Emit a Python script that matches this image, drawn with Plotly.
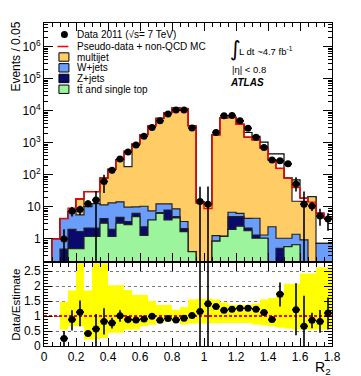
import numpy as np
import plotly.graph_objects as go

# R2 binning: 36 bins of 0.05 between 0 and 1.8
bin_edges = np.round(np.linspace(0.0, 1.8, 37), 3)
bin_centers = bin_edges[:-1] + 0.025

# stacked backgrounds (events per bin, individual contributions)
ttbar = [0, 0, 0, 0.5, 0.5, 1.2, 1.2, 3.1, 1.2, 3.1, 2.8, 5.0, 1.3, 3.9, 6.3, 3.9, 4.5, 1.7,
         0.4, 0, 0, 0.85, 1.2, 2.0, 2.5, 1.8, 1.05, 1.05, 0, 0, 0.58, 0.66, 0, 0, 0, 0]
z_jets = [0, 0, 0.48, 1.5, 1.2, 1.0, 1.0, 1.2, 0.8, 1.6, 0.7, 1.3, 1.1, 0, 0.3, 4.1, 0.5, 0.4,
          0, 0, 0, 0, 0, 3.0, 2.5, 0.4, 0.28, 0, 0, 0.51, 0, 0, 0, 0, 0, 0]
w_jets = [0, 1.0, 3.8, 5.2, 3.9, 8.0, 10.5, 7.2, 11.3, 9.7, 6.3, 3.7, 8.1, 3.6, 5.8, 4.4, 3.7, 1.4,
          0, 0, 0, 0.42, 0, 1.8, 1.3, 2.2, 3.1, 0.28, 2.4, 0.54, 0.47, 0.74, 0.93, 0, 0.73, 0.73]
multijet = [0, 0, 0, 0, 12, 0, 0, 68, 137, 286, 172, 900, 1790, 3390, 5790, 8790, 12290, 11800,
            3400, 14.6, 11.5, 1780, 6000, 6190, 3790, 1500, 1230, 680, 293, 159, 78, 13.6, 13.9, 21, 0, 0]

# black outline (total estimate) and red pseudo-data + non-QCD MC
total_estimate = [0, 1.0, 4.3, 7.2, 18, 30, 30, 79, 150, 300, 510, 910, 1800, 3400, 5800, 8800, 12300, 11800,
                  3400, 14.6, 11.5, 1780, 6000, 6200, 3800, 2100, 1590, 1050, 450, 450, 79, 70, 18.7, 21, 6.4, 4.4]
pseudo_data = [0, 1.0, 4.4, 9.1, 18, 30, 30, 79, 150, 300, 560, 950, 1800, 3400, 5800, 8800, 12300, 11800,
               3400, 13, 8.9, 1780, 6000, 6200, 3800, 1500, 1230, 680, 295, 160, 79, 40, 18.7, 14, 6.4, 4.4]

# data 2011
data = [None, None, 1.0, 7.5, 8.3, 12.6, 16.5, 62, 140, 310, 520, 850, 1600, 3000, 4900, 7900, 10500, 10500,
        2900, 14.8, 12.1, 2100, 7000, 7100, 4850, 2850, 1500, 720, 290, 276, 221, 52, 12.1, 10.7, 5.2, 4.2]
data_err_up = [None, None, 1.0, 2.5, 2.5, 3.5, 15, 38, 30, 25, 23, 30, 40, 55, 70, 90, 100, 100,
               54, 28, 31, 46, 84, 84, 70, 53, 39, 27, 17, 17, 15, 33, 18, 3.5, 3.5, 2.1]
data_err_down = [None, None, 1.0, 2.5, 2.7, 2.6, 16.5, 35, 30, 25, 23, 30, 40, 55, 70, 90, 100, 100,
                 54, 14.8, 12.1, 46, 84, 84, 70, 53, 39, 27, 17, 17, 15, 22, 12.1, 3.2, 2.6, 2.4]

# ratio panel
ratio = [None, None, 0.25, 0.88, 1.13, 0.42, 0.57, 0.82, 0.77, 1.01, 0.88, 0.87, 0.90, 0.99, 0.86, 0.92, 0.87, 0.93,
         1.02, 1.15, 1.41, 1.32, 1.19, 1.23, 1.26, 1.26, 1.23, 1.12, 0.88, 1.73, None, 1.21, 0.66, 0.86, 0.82, 1.10]
ratio_err_up = [None, None, 0.25, 0.31, 0.39, 0.1, 0.5, 0.44, 0.17, 0.18, 0.12, 0.05, 0.04, 0.04, 0.03, 0.03, 0.03, 0.03,
                0.03, 3, 3, 0.04, 0.03, 0.03, 0.03, 0.04, 0.05, 0.05, 0.08, 0.39, None, 0.88, 1.02, 0.25, 0.38, 0.52]
ratio_err_down = [None, None, 0.25, 0.36, 0.47, 0.1, 0.57, 0.44, 0.19, 0.2, 0.12, 0.05, 0.04, 0.04, 0.03, 0.03, 0.03, 0.03,
                  0.03, 1.15, 1.41, 0.04, 0.03, 0.03, 0.03, 0.04, 0.05, 0.05, 0.08, 0.41, None, 0.85, 0.66, 0.27, 0.38, 0.55]
band_low = [1, 1, 0.55, 0.66, 0.66, 0.22, 0.22, 0.27, 0.44, 0.44, 0.55, 0.55, 0.66, 0.71, 0.77, 0.82, 0.88, 0.72,
            0.75, 0.75, 0.75, 0.77, 0.77, 0.77, 0.77, 0.77, 0.72, 0.68, 0.66, 0.62, 0.58, 0.55, 0.55, 0.55, 0.55, 0.55]
band_high = [1, 1, 1.48, 1.85, 3.0, 1.85, 3.0, 3.0, 2.03, 2.03, 1.87, 1.70, 1.70, 1.50, 1.37, 1.37, 1.21, 1.3,
             1.55, 1.58, 1.58, 1.55, 1.45, 1.38, 1.38, 1.38, 1.42, 1.55, 1.6, 1.8, 2.08, 2.08, 2.42, 2.42, 2.63, 2.63]


def arr(v):
    return np.array(v, dtype=float)


def step(v, floor=None):
    v = arr(v)
    if floor is not None:
        v = np.where(v > 0, v, floor)
    return np.append(v, v[-1])


FLOOR = 1e-3
c_tt = arr(ttbar)
c_z = c_tt + arr(z_jets)
c_w = c_z + arr(w_jets)
c_mj = c_w + arr(multijet)

fig = go.Figure()

# white-filled total estimate behind the stack
fig.add_trace(go.Scatter(x=bin_edges, y=step(total_estimate, FLOOR), mode="lines", line_shape="hv",
                         line=dict(color="black", width=1.2), fill="tozeroy", fillcolor="white",
                         showlegend=False, xaxis="x", yaxis="y"))
for vals, col in [(c_mj, "#ffcc66"), (c_w, "#6b9dfa"), (c_z, "#0a0a6e"), (c_tt, "#9cf59c")]:
    fig.add_trace(go.Scatter(x=bin_edges, y=step(vals, FLOOR), mode="lines", line_shape="hv",
                             line=dict(color="#222", width=1.2), fill="tozeroy", fillcolor=col,
                             showlegend=False, xaxis="x", yaxis="y"))
fig.add_trace(go.Scatter(x=bin_edges, y=step(pseudo_data, FLOOR), mode="lines", line_shape="hv",
                         line=dict(color="red", width=1.3), showlegend=False, xaxis="x", yaxis="y"))
fig.add_trace(go.Scatter(x=bin_centers, y=arr(data), mode="markers",
                         marker=dict(color="black", size=7),
                         error_y=dict(type="data", array=arr(data_err_up), arrayminus=arr(data_err_down),
                                      color="black", thickness=1.6, width=0),
                         error_x=dict(type="constant", value=0.025, color="black", thickness=1.6, width=0),
                         showlegend=False, xaxis="x", yaxis="y"))

# ratio panel
fig.add_trace(go.Scatter(x=bin_edges, y=step(band_low), mode="lines", line_shape="hv",
                         line=dict(width=0, color="yellow"), showlegend=False, xaxis="x2", yaxis="y2"))
fig.add_trace(go.Scatter(x=bin_edges, y=step(band_high), mode="lines", line_shape="hv",
                         line=dict(width=0, color="yellow"), fill="tonexty", fillcolor="#ffff00",
                         showlegend=False, xaxis="x2", yaxis="y2"))
fig.add_trace(go.Scatter(x=[0, 1.8], y=[1, 1], mode="lines", line=dict(color="red", width=2, dash="3px,2px"),
                         showlegend=False, xaxis="x2", yaxis="y2"))
fig.add_trace(go.Scatter(x=bin_centers, y=arr(ratio), mode="markers",
                         marker=dict(color="black", size=7),
                         error_y=dict(type="data", array=arr(ratio_err_up), arrayminus=arr(ratio_err_down),
                                      color="black", thickness=1.6, width=0),
                         error_x=dict(type="constant", value=0.025, color="black", thickness=1.6, width=0),
                         showlegend=False, xaxis="x2", yaxis="y2"))

# pixel -> paper helpers for the hand-made legend
L, R, T, B = 35.5, 324.5, 15.0, 337.8


def px(xp):
    return (xp - L) / (R - L)


def py(yp):
    return (B - yp) / (B - T)


FONT = "Liberation Sans, Arial, sans-serif"
shapes = []
annotations = []
legend_rows = [
    ("Data 2011 (\u221as= 7 TeV)", 26.5, "dot", "black"),
    ("Pseudo-data + non-QCD MC", 38.5, "line", "red"),
    ("multijet", 49.0, "box", "#ffcc66"),
    ("W+jets", 59.8, "box", "#6b9dfa"),
    ("Z+jets", 70.4, "box", "#0a0a6e"),
    ("tt\u0304 and single top", 81.2, "box", "#9cf59c"),
]
for text, yc, kind, col in legend_rows:
    if kind == "dot":
        shapes.append(dict(type="circle", xref="paper", yref="paper", x0=px(52.5), x1=px(59.5),
                           y0=py(yc + 3.5), y1=py(yc - 3.5), fillcolor="black", line=dict(width=0)))
    elif kind == "line":
        shapes.append(dict(type="line", xref="paper", yref="paper", x0=px(49), x1=px(60),
                           y0=py(yc), y1=py(yc), line=dict(color=col, width=1.5)))
    else:
        shapes.append(dict(type="rect", xref="paper", yref="paper", x0=px(50.5), x1=px(60.5),
                           y0=py(yc + 4.2), y1=py(yc - 4.2), fillcolor=col, line=dict(color="black", width=1)))
    annotations.append(dict(text=text, xref="paper", yref="paper", x=px(67), y=py(yc), xanchor="left",
                            yanchor="middle", showarrow=False, font=dict(family=FONT, size=10, color="black")))

annotations += [
    dict(text="\u222b", xref="paper", yref="paper", x=px(220), y=py(41), xanchor="left", yanchor="middle",
         showarrow=False, font=dict(family="DejaVu Sans", size=21, color="black")),
    dict(text="L dt ~4.7 fb<sup>-1</sup>", xref="paper", yref="paper", x=px(229), y=py(43), xanchor="left",
         yanchor="middle", showarrow=False, font=dict(family=FONT, size=9.5, color="black")),
    dict(text="|\u03b7| < 0.8", xref="paper", yref="paper", x=px(222), y=py(61.5), xanchor="left",
         yanchor="middle", showarrow=False, font=dict(family=FONT, size=9.5, color="black")),
    dict(text="<b><i>ATLAS</i></b>", xref="paper", yref="paper", x=px(220), y=py(74), xanchor="left",
         yanchor="middle", showarrow=False, font=dict(family=FONT, size=10, color="black")),
    dict(text="Events / 0.05", xref="paper", yref="paper", x=px(7), y=py(49), textangle=-90,
         xanchor="center", yanchor="middle", showarrow=False, font=dict(family=FONT, size=12, color="black")),
    dict(text="Data/Estimate", xref="paper", yref="paper", x=px(8), y=py(297), textangle=-90,
         xanchor="center", yanchor="middle", showarrow=False, font=dict(family=FONT, size=11.5, color="black")),
    dict(text="R<sub>2</sub>", xref="paper", yref="paper", x=px(326), y=py(360), xanchor="right",
         yanchor="middle", showarrow=False, font=dict(family=FONT, size=14, color="black")),
]

axis_common = dict(showline=True, linecolor="black", linewidth=1, mirror="allticks", ticks="inside",
                   tickcolor="black", zeroline=False, showgrid=False,
                   tickfont=dict(family=FONT, size=12, color="black"))

fig.update_layout(
    width=361, height=376,
    margin=dict(l=L, r=361 - R, t=T, b=376 - B),
    paper_bgcolor="white", plot_bgcolor="white",
    showlegend=False,
    shapes=shapes, annotations=annotations,
    xaxis=dict(axis_common, domain=[0, 1], range=[0, 1.8], anchor="y", dtick=0.2, ticklen=8,
               showticklabels=False, minor=dict(ticks="inside", dtick=0.05, ticklen=4, tickcolor="black")),
    yaxis=dict(axis_common, domain=[0.262, 1], type="log", range=[-0.70, 6.74], anchor="x",
               tickvals=[1, 10, 100, 1e3, 1e4, 1e5, 1e6],
               ticktext=["1", "10", "10<sup>2</sup>", "10<sup>3</sup>", "10<sup>4</sup>", "10<sup>5</sup>",
                         "10<sup>6</sup>"],
               ticklen=9, minor=dict(ticks="inside", ticklen=4, tickcolor="black", dtick="D1")),
    xaxis2=dict(axis_common, domain=[0, 1], range=[0, 1.8], anchor="y2", dtick=0.2, ticklen=8,
                minor=dict(ticks="inside", dtick=0.05, ticklen=4, tickcolor="black")),
    yaxis2=dict(axis_common, domain=[0, 0.258], range=[0, 2.78], anchor="x2", dtick=0.5, ticklen=8,
                showgrid=True, gridcolor="#777", griddash="3px,3px", gridwidth=1,
                minor=dict(ticks="inside", dtick=0.1, ticklen=4, tickcolor="black")),
)

fig.write_html("out.html")
